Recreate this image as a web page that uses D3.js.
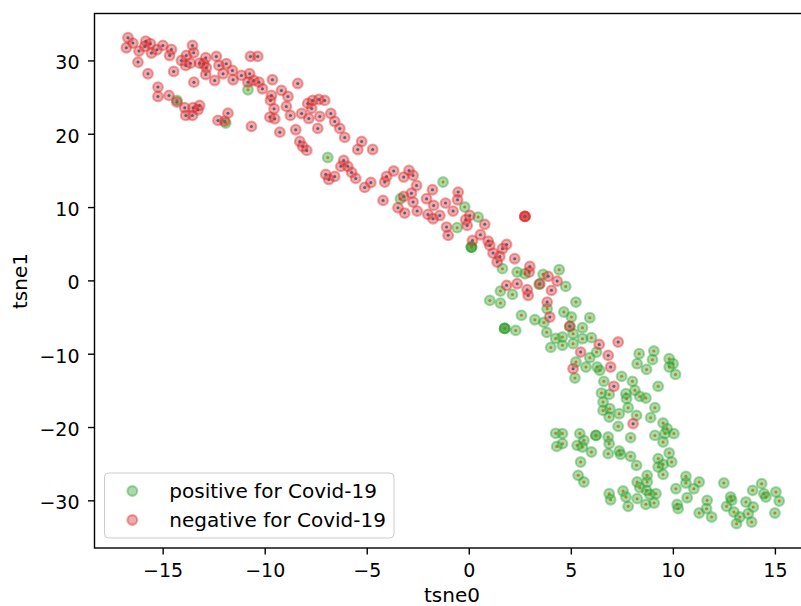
<!DOCTYPE html>
<html><head><meta charset="utf-8">
<script src="https://cdn.jsdelivr.net/npm/d3@7"></script>
<style>body{margin:0;background:#fff} text{font-family:"DejaVu Sans",sans-serif}</style>
</head><body><svg id="c" width="801" height="606"></svg>
<script>
const xTicks=[-15,-10,-5,0,5,10,15];
const yTicks=[-30,-20,-10,0,10,20,30];
const xTickLabels=["−15","−10","−5","0","5","10","15"];
const yTickLabels=["−30","−20","−10","0","10","20","30"];
const seriesNames=["positive for Covid-19","negative for Covid-19"];
const xLabel="tsne0", yLabel="tsne1";

const posX=[-14.30,-10.82,-11.91,-6.91,-1.26,-3.35,-0.20,0.46,-0.57,0.13,0.13,0.13,1.65,2.37,2.75,3.64,4.43,4.75,1.55,2.14,1.03,1.55,3.45,5.25,2.58,3.24,3.84,4.66,5.93,5.03,1.76,1.76,1.76,2.30,3.82,4.02,4.26,3.68,4.95,5.57,5.11,4.59,4.59,5.11,5.57,6.01,6.26,5.93,5.25,5.74,6.29,6.42,5.20,
8.35,8.25,9.07,9.00,8.71,9.82,10.01,9.82,10.13,7.49,6.62,8.02,6.50,6.88,7.70,7.73,8.14,8.38,8.68,6.58,6.91,6.58,7.81,7.37,6.88,9.12,9.28,8.91,8.22,7.32,7.93,9.52,9.72,9.61,10.05,9.12,9.52,9.82,9.94,9.52,9.28,9.28,9.52,8.22,8.74,8.74,8.25,8.38,8.71,8.87,9.17,9.08,8.68,8.25,7.81,7.70,7.56,6.88,6.95,10.15,10.64,10.64,11.03,11.29,10.70,10.21,10.26,11.68,11.29,11.90,11.65,12.50,12.83,12.63,12.88,12.99,13.12,13.28,13.58,13.69,13.86,13.91,14.35,14.56,15.05,15.21,15.00,13.94,14.46,
5.48,5.36,5.64,5.44,5.31,5.64,5.57,6.01,4.59,4.59,6.23,6.23,6.83,6.88,6.83,7.37,7.44,7.93,4.26,4.31];
const posY=[24.55,26.00,21.45,16.77,13.41,11.14,10.00,8.63,7.19,4.54,4.54,4.54,1.60,1.13,0.91,0.82,1.46,-0.82,-1.46,-1.91,-2.73,-3.10,-0.55,-2.96,-4.77,-5.36,-3.86,-4.32,-5.09,-5.00,-6.55,-6.55,-6.55,-6.82,-7.09,-9.14,-7.91,-5.73,-6.27,-6.45,-7.27,-7.73,-8.86,-8.63,-7.95,-7.81,-9.78,-10.54,-11.14,-11.82,-11.82,-12.27,-13.32,
-10.00,-11.36,-9.64,-10.81,-12.14,-10.68,-11.36,-11.82,-12.82,-13.09,-13.77,-13.77,-15.37,-15.55,-15.45,-16.13,-15.00,-15.82,-16.05,-16.60,-17.50,-17.73,-17.36,-18.18,-18.64,-17.36,-14.45,-18.72,-18.41,-19.91,-21.45,-19.46,-20.22,-20.90,-20.90,-21.14,-22.05,-23.55,-24.78,-25.09,-24.31,-25.46,-26.46,-25.23,-26.59,-27.50,-27.50,-28.27,-28.64,-29.18,-29.09,-30.37,-30.55,-29.77,-30.82,-29.55,-28.73,-29.09,-29.91,-28.41,-26.73,-27.64,-28.41,-27.50,-29.64,-30.55,-31.13,-30.00,-31.73,-32.28,-31.13,-27.64,-29.55,-30.82,-30.00,-31.60,-33.18,-32.28,-30.23,-31.82,-32.96,-28.64,-27.72,-29.55,-28.87,-30.10,-31.73,-30.91,-29.09,
-24.78,-26.59,-27.50,-20.90,-22.50,-21.82,-22.73,-23.41,-20.90,-22.27,-21.14,-21.14,-21.37,-22.27,-23.63,-23.28,-23.73,-24.00,-20.86,-22.64];

const negX=[-16.70,-16.78,-16.46,-15.83,-15.88,-15.60,-15.55,-16.16,-15.28,-14.99,-14.57,-14.66,-16.21,-15.72,-14.46,-13.54,-13.48,-13.84,-14.08,-13.64,-13.87,-12.89,-12.99,-12.86,-12.89,-13.19,-12.37,-12.24,-11.88,-12.04,-11.58,-11.55,-12.45,-13.47,-11.14,-10.70,-10.34,-10.74,-10.82,-10.54,-10.28,-10.11,-9.62,-9.18,-8.86,-9.67,-9.72,-9.54,-8.94,-8.74,-9.75,-9.51,-9.26,-8.48,
-15.23,-15.23,-14.69,-14.30,-13.92,-13.51,-13.19,-13.27,-13.87,-13.54,-11.80,-12.29,-11.96,-10.65,-8.38,
-7.89,-7.65,-7.35,-7.06,-7.70,-8.19,-7.84,-7.30,-6.76,-6.57,-7.40,-6.32,-6.08,-8.28,-8.14,-7.94,-6.13,-5.93,-6.27,-5.25,-4.71,-7.01,-6.86,-6.57,-5.74,-5.54,-5.10,-4.80,-5.44,
-3.68,-2.93,-2.73,-3.19,-4.03,-4.12,-2.56,-4.20,-2.81,-3.19,-3.47,-3.14,-2.53,-2.73,-2.07,-1.78,-2.00,-1.72,-1.75,-1.42,-1.14,-0.52,-0.55,-0.77,-1.09,-1.01,0.05,-0.15,-0.08,0.78,0.57,0.18,0.95,1.03,1.85,1.65,1.19,1.52,1.39,2.25,2.99,2.96,2.75,2.75,2.75,2.37,1.85,2.86,2.91,3.48,3.89,4.33,4.05,3.84,3.97,
4.95,6.39,7.32,5.48,6.83,6.95,5.11,7.11,8.05];
const negY=[33.10,31.73,32.36,32.63,31.91,32.28,31.00,31.27,31.46,32.05,31.50,30.68,29.77,28.19,28.50,32.05,31.05,30.68,30.00,29.63,29.32,30.37,29.55,29.00,28.09,29.63,30.55,29.32,29.55,28.19,28.64,27.37,27.27,27.04,27.96,30.55,30.55,28.19,27.04,27.27,27.04,26.14,27.37,25.91,25.09,25.23,24.55,23.41,23.73,22.50,22.27,22.05,20.22,20.55,
26.36,25.09,25.23,24.31,23.55,23.55,23.86,23.28,22.50,22.50,22.81,21.82,21.72,21.00,26.86,
24.14,24.55,24.68,24.55,23.46,22.77,22.09,22.36,22.77,21.68,20.73,20.73,19.50,18.95,18.27,17.73,16.36,15.55,15.55,18.95,17.86,14.46,13.77,14.18,14.73,13.91,12.68,13.36,17.86,
14.91,15.00,14.32,14.09,14.18,13.41,12.95,10.91,11.90,11.45,9.91,9.18,9.45,10.68,11.14,12.37,9.00,10.23,8.41,8.86,10.54,12.04,11.00,9.45,7.27,6.14,8.86,8.28,7.50,7.64,6.23,5.45,5.36,4.77,4.91,4.32,3.72,3.27,2.50,2.96,1.91,1.13,8.73,8.73,8.73,-0.45,-0.68,-1.27,-2.05,-0.45,0.55,-0.10,-1.36,-2.96,-5.00,
-6.27,-8.73,-8.41,-9.78,-10.23,-11.82,-12.04,-14.45,-19.54];

const colors={pos:"#2ca02c",neg:"#d62728",posDot:"#ff7f0e",negDot:"#1f77b4"};
const pos=posX.map((v,i)=>({x:v,y:posY[i]}));
const neg=negX.map((v,i)=>({x:v,y:negY[i]}));

const svg=d3.select("#c");
svg.append("rect").attr("width",801).attr("height",606).attr("fill","#fff");
const x=d3.scaleLinear().domain([-18.34,16.72]).range([94.5,810]);
const y=d3.scaleLinear().domain([-36.5,36.4]).range([548,13.5]);

const R=4.9, SW=2.1;
svg.append("g").selectAll("circle").data(pos).join("circle")
  .attr("cx",d=>x(d.x)).attr("cy",d=>y(d.y)).attr("r",1.5).attr("fill",colors.posDot);
svg.append("g").selectAll("circle").data(neg).join("circle")
  .attr("cx",d=>x(d.x)).attr("cy",d=>y(d.y)).attr("r",1.5).attr("fill",colors.negDot);
function big(g,data,c){
  g.selectAll("circle").data(data).join("circle")
   .attr("cx",d=>x(d.x)).attr("cy",d=>y(d.y)).attr("r",R)
   .attr("fill",c).attr("fill-opacity",0.4)
   .attr("stroke",c).attr("stroke-opacity",0.4).attr("stroke-width",SW);
}
big(svg.append("g"),pos,colors.pos);
big(svg.append("g"),neg,colors.neg);

const fs=19;
const gx=svg.append("g").attr("transform","translate(0,548)")
  .call(d3.axisBottom(x).tickValues(xTicks).tickFormat((d,i)=>xTickLabels[i]).tickSize(6.5).tickPadding(9));
const gy=svg.append("g").attr("transform","translate(94.5,0)")
  .call(d3.axisLeft(y).tickValues(yTicks).tickFormat((d,i)=>yTickLabels[i]).tickSize(6.5).tickPadding(8.5));
[gx,gy].forEach(g=>{
  g.select(".domain").remove();
  g.selectAll(".tick line").attr("stroke","#000").attr("stroke-width",1.4);
  g.selectAll(".tick text").attr("fill","#000").style("font-size",fs+"px").style("font-family","DejaVu Sans");
});
gy.selectAll(".tick text").attr("dy","0.45em");
svg.append("rect").attr("x",94.5).attr("y",13.5).attr("width",715.5).attr("height",534.5)
  .attr("fill","none").attr("stroke","#000").attr("stroke-width",1.4);

svg.append("text").attr("x",452).attr("y",602).attr("text-anchor","middle")
  .style("font-size","20px").text(xLabel);
svg.append("text").attr("transform","translate(27,281) rotate(-90)").attr("text-anchor","middle")
  .style("font-size","20px").text(yLabel);

const lg=svg.append("g");
lg.append("rect").attr("x",104.5).attr("y",473).attr("width",289.5).attr("height",65).attr("rx",4)
  .attr("fill","#fff").attr("fill-opacity",0.8).attr("stroke","#cccccc").attr("stroke-width",1);
[[colors.pos,491],[colors.neg,520]].forEach(([c,yy],i)=>{
  lg.append("circle").attr("cx",132.3).attr("cy",yy).attr("r",R)
   .attr("fill",c).attr("fill-opacity",0.4).attr("stroke",c).attr("stroke-opacity",0.4).attr("stroke-width",SW);
  lg.append("text").attr("x",169.3).attr("y",yy+6.5).style("font-size","20px").attr("fill","#000").text(seriesNames[i]);
});
</script></body></html>
